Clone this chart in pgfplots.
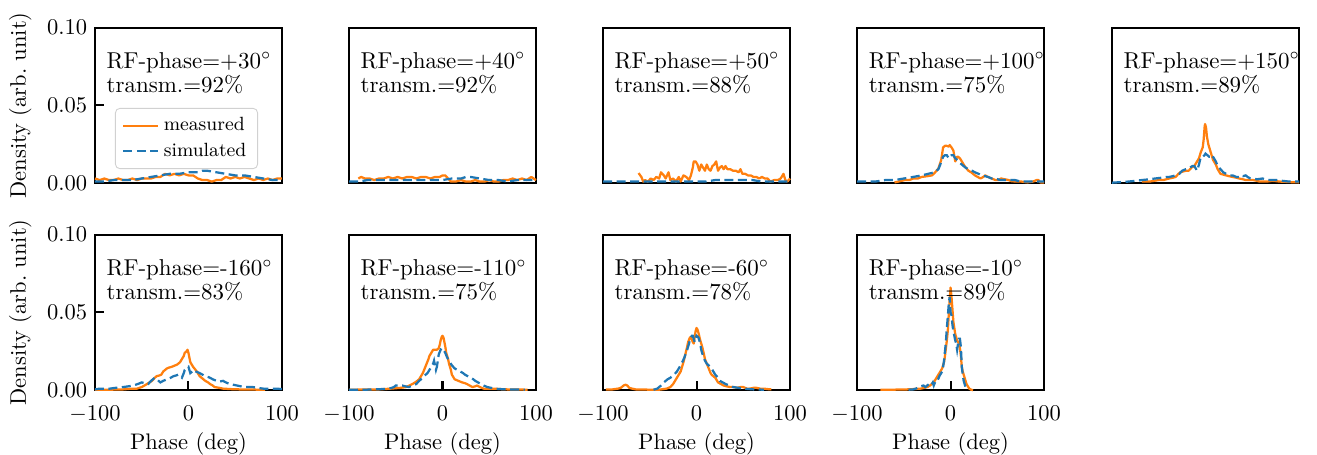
\documentclass[border=0pt]{standalone}
\usepackage{pgfplots}
\pgfplotsset{compat=1.18}
\definecolor{morange}{HTML}{FF7F0E}
\definecolor{mblue}{HTML}{1F77B4}
\pgfplotsset{
  panel/.style={scale only axis, width=83.1pt, height=69.1pt, anchor=south west,
    xmin=-100, xmax=100, ymin=0, ymax=0.1,
    xtick={-100,0,100}, ytick={0,0.05,0.1},
    tick align=inside, xtick pos=left, ytick pos=left, major tick length=4pt,
    axis line style={line width=0.9pt}, every tick/.style={black,line width=0.9pt},
    yticklabel style={/pgf/number format/.cd, fixed, fixed zerofill, precision=2},
    xticklabel style={yshift=-3.5pt},
    tick label style={font=\fontsize{10}{12}\selectfont},
    label style={font=\fontsize{10}{12}\selectfont},
    xlabel style={yshift=2.5pt},
    clip=false},
  noy/.style={ytick=\empty},
  nox/.style={xtick=\empty},
  yl/.style={ylabel={Density (arb.\ unit)}},
  xl/.style={xlabel={Phase (deg)}},
  meas/.style={color=morange, line width=1pt, line join=round, no marks},
  sim/.style={color=mblue, line width=1pt, dash pattern=on 4pt off 2pt, no marks},
}
\newcommand{\lab}[2]{\node[anchor=north west, align=left, inner sep=0pt, font=\fontsize{10.2}{10.7}\selectfont] at (rel axis cs:0.06,0.845) {RF-phase=#1$^\circ$\\transm.=#2\%};}
\begin{document}
\begin{tikzpicture}
\useasboundingbox (0,0) rectangle (585.3pt,201.8pt);
% ---------- Panel 1: +30
\begin{axis}[panel, yl, nox, at={(42.2pt,120.4pt)},
  legend cell align=left,
  legend style={at={(0.107,0.484)}, anchor=north west, draw=black!18, rounded corners=2pt,
    fill=white, fill opacity=0.8, text opacity=1, font=\fontsize{8.5}{10}\selectfont,
    inner xsep=3pt, inner ysep=2pt},
  legend image code/.code={\draw[#1] (0pt,0pt) -- (15.5pt,0pt);}]
\addplot[meas] table {
-100 0.003
-95 0.002
-90 0.003
-85 0.002
-80 0.002
-75 0.003
-70 0.002
-65 0.002
-60 0.003
-55 0.002
-50 0.003
-45 0.003
-40 0.003
-35 0.004
-30 0.004
-25 0.006
-20 0.005
-15 0.006
-10 0.005
-5 0.006
0 0.005
5 0.005
10 0.003
15 0.002
20 0.002
25 0.001
30 0.002
35 0.002
40 0.004
45 0.003
50 0.004
55 0.003
60 0.004
65 0.003
70 0.002
75 0.003
80 0.002
85 0.003
90 0.002
95 0.003
100 0.003
};
\addlegendentry{measured}
\addplot[sim] table {
-100 0.001
-90 0.001
-80 0.002
-70 0.002
-60 0.002
-50 0.003
-40 0.004
-30 0.005
-20 0.006
-10 0.006
0 0.007
10 0.007
15 0.008
20 0.008
30 0.007
40 0.006
50 0.005
60 0.005
70 0.004
80 0.003
90 0.002
100 0.002
};
\addlegendentry{simulated}
\lab{+30}{92}
\end{axis}
% ---------- Panel 2: +40
\begin{axis}[panel, noy, nox, at={(155.1pt,120.4pt)}]
\addplot[meas] table {
-90 0.003
-87 0.004
-83 0.003
-78 0.003
-73 0.002
-68 0.003
-63 0.003
-58 0.004
-53 0.003
-48 0.004
-43 0.003
-38 0.004
-33 0.004
-28 0.003
-23 0.004
-18 0.004
-13 0.003
-8 0.004
-3 0.004
0 0.005
3 0.005
6 0.003
9 0.001
14 0.001
20 0.002
25 0.001
30 0.001
35 0.002
40 0.001
45 0.001
50 0.002
55 0.001
60 0.001
65 0.002
70 0.002
75 0.003
80 0.002
85 0.003
90 0.002
95 0.004
100 0.002
};
\addplot[sim] table {
-100 0.001
-90 0.001
-80 0.002
-70 0.002
-60 0.002
-50 0.002
-40 0.002
-30 0.002
-20 0.002
-10 0.002
0 0.002
10 0.003
20 0.003
25 0.004
30 0.004
40 0.003
50 0.002
60 0.002
70 0.001
80 0.002
90 0.002
100 0.002
};
\lab{+40}{92}
\end{axis}
% ---------- Panel 3: +50
\begin{axis}[panel, noy, nox, at={(268.0pt,120.4pt)}]
\addplot[meas] table {
-62 0.0065
-59 0.004
-57 0.001
-55 0.002
-52 0.001
-49 0.003
-46 0.002
-43 0.004
-40 0.003
-38 0.007
-35 0.005
-33 0.003
-30 0.007
-28 0.002
-25 0.003
-22 0.001
-19 0.004
-17 0.001
-14 0.005
-11 0.004
-8 0.002
-6 0.005
-4 0.010
-3 0.014
-1 0.014
1 0.012
3 0.008
5 0.012
7 0.010
9 0.008
11 0.012
13 0.009
15 0.008
17 0.011
19 0.012
21 0.014
23 0.008
25 0.010
27 0.011
29 0.009
31 0.011
33 0.009
36 0.009
39 0.008
42 0.008
45 0.007
47 0.009
49 0.006
52 0.006
55 0.005
58 0.005
61 0.004
64 0.004
67 0.003
70 0.004
73 0.003
76 0.003
79 0.001
83 0.002
87 0.002
90 0.003
93 0.006
95 0.002
97 0.001
100 0.003
};
\addplot[sim] table {
-100 0.001
-80 0.001
-60 0.001
-40 0.001
-20 0.001
0 0.001
10 0.001
20 0.002
40 0.002
60 0.002
70 0.001
80 0.001
90 0.001
100 0.001
};
\lab{+50}{88}
\end{axis}
% ---------- Panel 4: +100
\begin{axis}[panel, noy, nox, at={(380.9pt,120.4pt)}]
\addplot[meas] table {
-60 0.0005
-56 0.001
-49 0.002
-44 0.002
-40 0.003
-35 0.003
-31 0.004
-25 0.0045
-20 0.005
-18 0.006
-15 0.008
-13 0.0095
-10 0.015
-8 0.023
-6 0.024
-4 0.024
-2 0.0235
-1 0.0245
1 0.023
3 0.021
5 0.014
7 0.017
8 0.017
10 0.016
12 0.014
15 0.011
19 0.008
22 0.007
26 0.005
29 0.004
32 0.003
35 0.004
37 0.005
40 0.004
44 0.003
48 0.002
51 0.002
54 0.003
58 0.0025
62 0.002
65 0.0013
70 0.001
76 0.001
82 0.0005
88 0.001
92 0.002
94 0.002
96 0.0005
100 0.0005
};
\addplot[sim] table {
-100 0.001
-90 0.001
-81 0.001
-70 0.002
-60 0.002
-50 0.003
-40 0.004
-31 0.005
-24 0.006
-17 0.007
-13 0.009
-11 0.012
-8 0.017
-6 0.018
-4 0.018
-2 0.016
-1 0.017
1 0.018
3 0.018
5 0.016
7 0.015
10 0.013
12 0.012
16 0.010
19 0.009
23 0.008
26 0.007
30 0.006
33 0.005
37 0.0045
40 0.004
44 0.003
48 0.003
53 0.002
58 0.002
64 0.002
69 0.002
75 0.001
83 0.001
90 0.001
100 0.001
};
\lab{+100}{75}
\end{axis}
% ---------- Panel 5: +150
\begin{axis}[panel, noy, nox, at={(494.2pt,120.4pt)}]
\addplot[meas] table {
-68 0.001
-60 0.001
-50 0.002
-45 0.002
-39 0.003
-35 0.0035
-32 0.004
-29 0.006
-27 0.007
-24 0.0075
-21 0.008
-18 0.008
-15 0.010
-12 0.011
-9 0.014
-7 0.016
-5 0.020
-3 0.023
-2 0.028
-1 0.036
-0.5 0.038
0.5 0.036
1.5 0.030
3 0.025
5 0.021
6 0.019
8 0.015
11 0.012
13 0.009
16 0.006
19 0.0055
22 0.005
25 0.0045
29 0.004
33 0.0035
36 0.003
40 0.0025
43 0.002
47 0.002
51 0.002
55 0.0015
58 0.001
65 0.001
72 0.0015
80 0.001
90 0.0007
100 0.0005
};
\addplot[sim] table {
-100 0.0003
-90 0.0007
-83 0.001
-75 0.0015
-68 0.002
-60 0.0025
-54 0.003
-47 0.0035
-42 0.004
-39 0.004
-35 0.0045
-32 0.005
-28 0.006
-25 0.008
-21 0.009
-18 0.0095
-14 0.011
-12 0.011
-10 0.009
-9 0.008
-7 0.012
-5 0.017
-3 0.017
-1 0.018
0 0.019
2 0.018
4 0.017
6 0.017
7 0.018
9 0.016
11 0.014
13 0.011
16 0.009
19 0.007
22 0.006
26 0.005
29 0.005
33 0.004
36 0.004
38 0.005
40 0.0045
43 0.005
45 0.004
48 0.003
51 0.003
55 0.0025
61 0.003
66 0.002
72 0.002
76 0.002
82 0.0015
90 0.001
96 0.001
100 0.001
};
\lab{+150}{89}
\end{axis}
% ---------- Panel 6: -160
\begin{axis}[panel, yl, xl, at={(42.2pt,28.4pt)}]
\addplot[meas] table {
-100 0.0003
-85 0.0003
-70 0.0005
-60 0.001
-55 0.001
-50 0.002
-47 0.003
-43 0.0045
-39 0.006
-36 0.008
-34 0.009
-31 0.0095
-29 0.010
-27 0.012
-25 0.013
-23 0.014
-21 0.0145
-18 0.015
-16 0.0155
-14 0.016
-12 0.0165
-11 0.017
-9 0.018
-7 0.020
-5 0.022
-4 0.024
-2 0.025
-1 0.026
0 0.024
1 0.021
2 0.018
4 0.016
5 0.015
7 0.0135
9 0.012
11 0.010
12 0.009
15 0.0075
18 0.006
21 0.005
23 0.004
26 0.003
28 0.002
33 0.0015
37 0.001
45 0.0007
55 0.0005
65 0.0005
75 0.0003
82 0.0003
};
\addplot[sim] table {
-100 0.0005
-95 0.001
-88 0.001
-84 0.001
-78 0.0015
-70 0.002
-64 0.0025
-59 0.003
-54 0.004
-50 0.005
-47 0.0045
-43 0.004
-40 0.006
-36 0.008
-33 0.0065
-30 0.005
-27 0.006
-23 0.007
-19 0.008
-16 0.009
-13 0.0095
-11 0.010
-9 0.009
-7 0.008
-5 0.011
-4 0.013
-2 0.014
0 0.015
2 0.011
4 0.012
5 0.013
8 0.012
12 0.011
15 0.010
18 0.009
21 0.0085
23 0.008
26 0.007
30 0.006
33 0.0055
37 0.006
40 0.005
44 0.004
48 0.0035
52 0.003
56 0.0025
59 0.002
64 0.002
69 0.002
74 0.0015
80 0.001
87 0.001
94 0.001
100 0.0007
};
\lab{-160}{83}
\end{axis}
% ---------- Panel 7: -110
\begin{axis}[panel, noy, xl, at={(155.1pt,28.4pt)}]
\addplot[meas] table {
-100 0.0003
-85 0.0004
-68 0.0005
-55 0.001
-45 0.0015
-39 0.002
-32 0.004
-28 0.0055
-25 0.007
-23 0.009
-21 0.011
-19 0.014
-17 0.017
-15 0.020
-14 0.022
-12 0.024
-10 0.026
-8 0.026
-6 0.026
-4 0.027
-3 0.029
-2 0.032
-1 0.034
0 0.035
1 0.034
2 0.031
3 0.028
4 0.024
6 0.020
7 0.017
9 0.013
10 0.010
12 0.008
13 0.007
15 0.0065
17 0.006
19 0.0055
21 0.005
24 0.0045
26 0.004
29 0.003
32 0.002
35 0.0025
37 0.003
40 0.002
44 0.001
50 0.001
55 0.001
62 0.0007
70 0.0005
78 0.0005
84 0.0004
91 0.0003
};
\addplot[sim] table {
-100 0.0002
-83 0.0003
-68 0.0006
-57 0.001
-52 0.002
-50 0.003
-46 0.003
-43 0.003
-40 0.0025
-36 0.002
-32 0.003
-28 0.004
-25 0.006
-21 0.008
-18 0.010
-16 0.011
-14 0.013
-12 0.015
-10 0.017
-9 0.019
-8 0.016
-7 0.013
-6 0.015
-4 0.023
-2 0.026
-1 0.027
1 0.026
3 0.024
5 0.021
6 0.020
8 0.018
10 0.016
13 0.014
16 0.013
19 0.012
22 0.011
24 0.010
27 0.009
30 0.008
33 0.007
35 0.006
38 0.005
41 0.004
44 0.003
48 0.002
52 0.0015
55 0.001
62 0.0007
70 0.0005
80 0.0004
88 0.0003
};
\lab{-110}{75}
\end{axis}
% ---------- Panel 8: -60
\begin{axis}[panel, noy, xl, at={(268.0pt,28.4pt)}]
\addplot[meas] table {
-97 0.0005
-90 0.0005
-84 0.001
-81 0.0015
-78 0.003
-76 0.0035
-74 0.003
-72 0.0015
-69 0.001
-65 0.0005
-60 0.0005
-50 0.0003
-40 0.0003
-32 0.001
-28 0.002
-25 0.004
-22 0.007
-19 0.010
-17 0.012
-14 0.018
-12 0.023
-10 0.028
-9 0.031
-7 0.034
-6 0.034
-4 0.031
-3 0.030
-2 0.034
-1 0.038
0 0.040
1 0.039
2 0.037
4 0.032
6 0.028
8 0.023
9 0.020
11 0.017
13 0.014
15 0.011
16 0.010
18 0.009
20 0.008
22 0.006
23 0.005
26 0.004
29 0.003
32 0.0025
36 0.002
40 0.002
43 0.0015
47 0.002
50 0.002
54 0.001
57 0.001
61 0.0015
64 0.0015
68 0.001
72 0.001
76 0.0007
80 0.0005
};
\addplot[sim] table {
-46 0.0003
-42 0.001
-38 0.003
-35 0.005
-31 0.007
-28 0.008
-24 0.010
-21 0.012
-18 0.015
-16 0.017
-13 0.021
-10 0.026
-8 0.030
-7 0.033
-5 0.035
-4 0.035
-2 0.031
-1 0.033
0 0.035
2 0.034
4 0.030
5 0.026
7 0.022
9 0.019
11 0.017
13 0.016
16 0.014
18 0.012
20 0.010
23 0.008
25 0.006
28 0.005
31 0.004
35 0.003
39 0.002
45 0.0015
50 0.001
61 0.0005
72 0.0003
};
\lab{-60}{78}
\end{axis}
% ---------- Panel 9: -10
\begin{axis}[panel, noy, xl, at={(380.9pt,28.4pt)}]
\addplot[meas] table {
-75 0.0003
-64 0.0003
-55 0.0004
-47 0.0005
-40 0.0007
-32 0.001
-28 0.0015
-25 0.002
-22 0.003
-18 0.005
-16 0.007
-13 0.010
-11 0.012
-9 0.014
-7 0.018
-6 0.022
-5 0.027
-4 0.032
-3 0.038
-2 0.048
-1 0.058
0 0.066
1 0.060
2 0.052
3 0.044
4 0.040
5 0.036
6 0.034
7 0.032
8 0.031
9 0.030
10 0.027
11 0.022
12 0.015
13 0.012
14 0.010
15 0.008
16 0.006
17 0.004
18 0.003
19 0.002
20 0.001
22 0.0003
24 0
};
\addplot[sim] table {
-45 0.0003
-40 0.0005
-37 0.001
-34 0.002
-32 0.0025
-29 0.003
-27 0.002
-25 0.003
-23 0.004
-21 0.003
-19 0.005
-18 0.003
-16 0.006
-14 0.006
-12 0.009
-11 0.010
-9 0.012
-8 0.015
-7 0.019
-6 0.025
-5 0.031
-4 0.040
-3 0.047
-2 0.055
-1 0.060
0 0.050
1 0.048
2 0.042
3 0.038
4 0.035
5 0.032
6 0.030
7 0.026
8 0.030
9 0.033
10 0.033
11 0.028
12 0.015
13 0.010
14 0.006
15 0.004
16 0.002
17 0.001
18 0.0003
};
\lab{-10}{89}
\end{axis}
\end{tikzpicture}
\end{document}
